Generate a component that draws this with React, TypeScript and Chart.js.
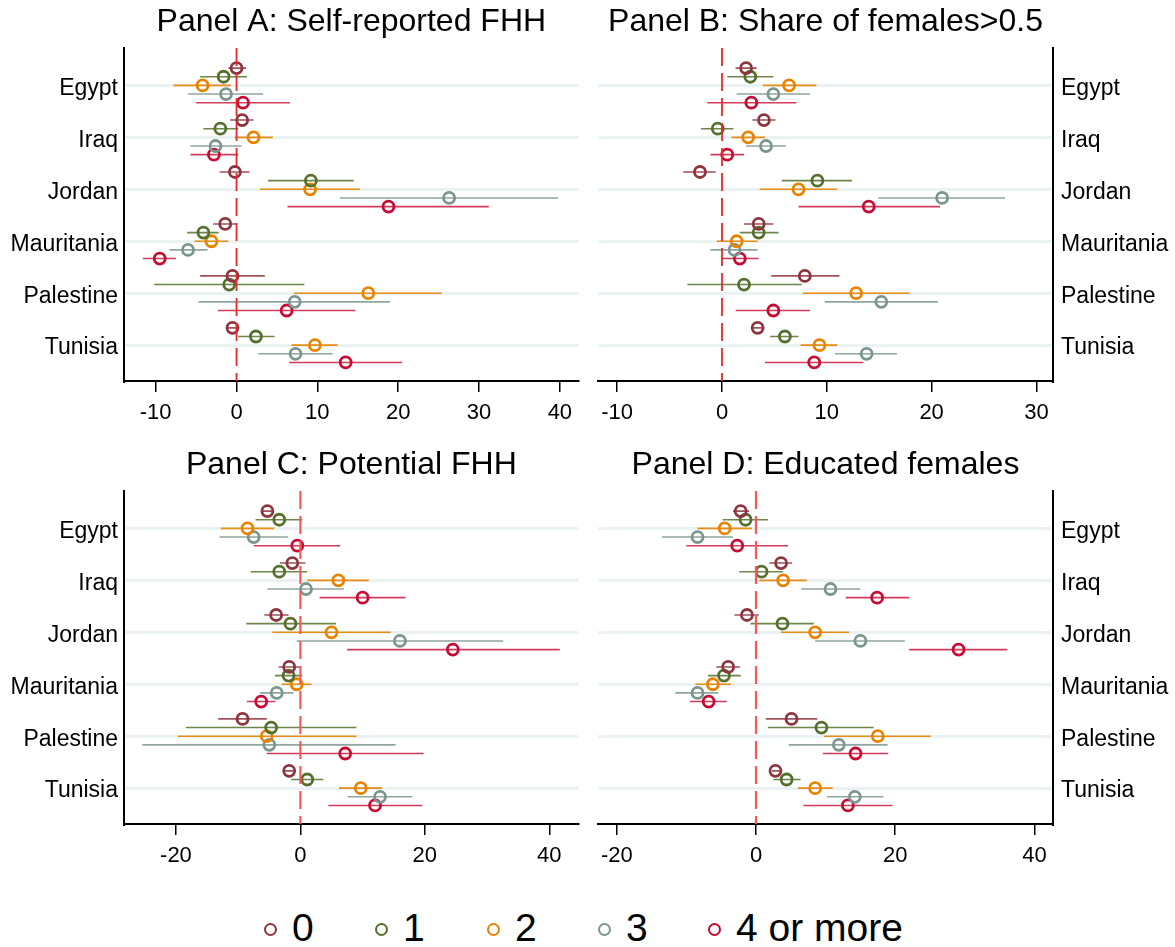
import React, { useEffect, useRef } from "react";
import { Chart, registerables } from "chart.js";

Chart.register(...registerables);

const FONT = '"Liberation Sans", Arial, Helvetica, sans-serif';

const countries = ["Egypt", "Iraq", "Jordan", "Mauritania", "Palestine", "Tunisia"];
const seriesLabels = ["0", "1", "2", "3", "4 or more"];
const seriesColors = ["#8e343e", "#55702d", "#e88300", "#7b968f", "#c80a32"];
const ciColors = ["rgba(142,52,62,0.85)", "rgba(85,112,45,0.85)", "rgba(232,131,0,0.9)", "rgba(123,150,143,0.85)", "rgba(200,10,50,0.8)"];

// Rows: countries (Egypt..Tunisia); columns: series 0,1,2,3,4 or more
const estA = [
  [0.0, -1.6, -4.2, -1.3, 0.8],
  [0.7, -2.0, 2.1, -2.6, -2.8],
  [-0.2, 9.2, 9.1, 26.3, 18.8],
  [-1.4, -4.1, -3.1, -6.0, -9.5],
  [-0.5, -0.9, 16.3, 7.2, 6.2],
  [-0.5, 2.4, 9.7, 7.3, 13.5],
];
const loA = [
  [-1.0, -4.5, -7.8, -6.0, -5.0],
  [-0.8, -4.1, -0.2, -5.7, -5.7],
  [-2.1, 3.9, 2.9, 12.8, 6.3],
  [-2.9, -6.1, -5.2, -8.3, -11.6],
  [-4.5, -10.2, 7.1, -4.7, -2.3],
  [-1.1, 0.2, 6.8, 2.7, 6.5],
];
const hiA = [
  [1.2, 1.3, -0.7, 3.3, 6.6],
  [2.1, 0.2, 4.5, 0.6, 0.2],
  [1.6, 14.5, 15.3, 39.8, 31.2],
  [0.1, -2.2, -1.0, -3.6, -7.5],
  [3.5, 8.4, 25.4, 19.0, 14.7],
  [0.2, 4.7, 12.5, 11.9, 20.5],
];

const estB = [
  [2.3, 2.7, 6.4, 4.9, 2.8],
  [4.0, -0.4, 2.5, 4.2, 0.5],
  [-2.1, 9.1, 7.3, 21.0, 14.0],
  [3.5, 3.5, 1.4, 1.2, 1.7],
  [7.9, 2.1, 12.8, 15.2, 4.9],
  [3.4, 6.0, 9.3, 13.8, 8.8],
];
const loB = [
  [1.3, 0.5, 3.9, 1.4, -1.4],
  [2.9, -2.0, 0.9, 2.3, -1.1],
  [-3.7, 5.7, 3.6, 14.9, 7.3],
  [2.1, 1.7, -0.5, -1.1, 0.0],
  [4.7, -3.3, 7.7, 9.8, 1.3],
  [2.9, 4.6, 7.5, 10.8, 4.1],
];
const hiB = [
  [3.3, 4.9, 9.0, 8.4, 7.1],
  [5.1, 1.1, 4.1, 6.1, 2.1],
  [-0.6, 12.4, 11.0, 27.0, 20.8],
  [4.9, 5.4, 3.4, 3.4, 3.5],
  [11.2, 7.6, 17.9, 20.6, 8.4],
  [4.0, 7.3, 11.0, 16.7, 13.5],
];

const estC = [
  [-5.3, -3.4, -8.5, -7.5, -0.5],
  [-1.3, -3.4, 6.1, 0.9, 10.0],
  [-3.9, -1.6, 5.0, 16.0, 24.5],
  [-1.8, -1.9, -0.6, -3.8, -6.3],
  [-9.3, -4.7, -5.4, -5.0, 7.2],
  [-1.8, 1.1, 9.7, 12.8, 12.0],
];
const loC = [
  [-6.3, -7.2, -12.8, -13.0, -7.5],
  [-3.3, -8.0, 1.1, -5.3, 3.1],
  [-5.8, -8.7, -4.5, -0.6, 7.5],
  [-3.5, -4.1, -3.0, -6.5, -8.6],
  [-13.2, -18.4, -19.7, -25.4, -5.4],
  [-2.5, -1.5, 6.2, 7.6, 4.5],
];
const hiC = [
  [-4.3, 0.3, -4.2, -2.0, 6.4],
  [0.8, 1.1, 11.0, 7.0, 16.9],
  [-1.9, 5.7, 14.5, 32.6, 41.7],
  [-0.1, 0.3, 1.8, -1.1, -4.0],
  [-5.4, 9.0, 9.0, 15.3, 19.8],
  [-1.1, 3.7, 13.1, 18.0, 19.6],
];

const estD = [
  [-2.2, -1.5, -4.5, -8.4, -2.7],
  [3.6, 0.8, 3.9, 10.7, 17.4],
  [-1.3, 3.8, 8.5, 15.0, 29.1],
  [-4.0, -4.6, -6.2, -8.4, -6.8],
  [5.1, 9.4, 17.5, 11.9, 14.3],
  [2.8, 4.4, 8.5, 14.2, 13.2],
];
const loD = [
  [-3.3, -4.8, -8.4, -13.5, -10.0],
  [1.9, -2.4, 0.5, 6.5, 12.9],
  [-3.1, -0.8, 3.6, 8.5, 22.0],
  [-5.7, -6.9, -8.7, -11.6, -9.5],
  [1.4, 1.7, 9.8, 4.7, 9.6],
  [2.3, 2.5, 6.0, 10.2, 6.8],
];
const hiD = [
  [-1.0, 1.7, -0.6, -3.3, 4.6],
  [5.2, 3.9, 7.3, 15.0, 22.0],
  [0.4, 8.3, 13.4, 21.4, 36.1],
  [-2.3, -2.2, -3.6, -5.4, -4.2],
  [8.8, 16.9, 25.1, 18.9, 19.0],
  [3.4, 6.4, 11.0, 18.3, 19.6],
];

const ticksA = [-10, 0, 10, 20, 30, 40];
const ticksB = [-10, 0, 10, 20, 30];
const ticksC = [-20, 0, 20, 40];
const ticksD = [-20, 0, 20, 40];

const Y_MIN = 0.28;
const Y_MAX = 6.69;

type PanelProps = {
  title: string;
  est: number[][];
  lo: number[][];
  hi: number[][];
  xMin: number;
  xMax: number;
  xTicks: number[];
  side: "left" | "right";
  left: number;
  top: number;
  width: number;
  height: number;
  padLeft: number;
  padRight: number;
  zeroColor: string;
  zeroWidth: number;
};

function Panel(p: PanelProps) {
  const ref = useRef<HTMLCanvasElement>(null);
  useEffect(() => {
    if (!ref.current) return;
    const datasets: any[] = [];
    datasets.push({
      type: "line",
      data: [
        { x: 0, y: Y_MIN },
        { x: 0, y: Y_MAX },
      ],
      borderColor: p.zeroColor,
      borderWidth: p.zeroWidth,
      borderDash: [18, 7],
      pointRadius: 0,
      order: 0,
    });
    for (let k = 0; k < 5; k++) {
      const ci: any[] = [];
      const pts: any[] = [];
      countries.forEach((_, i) => {
        const y = i + 1 + (k - 2) / 6;
        ci.push({ x: p.lo[i][k], y });
        ci.push({ x: p.hi[i][k], y });
        ci.push({ x: null, y: null });
        pts.push({ x: p.est[i][k], y });
      });
      datasets.push({
        type: "line",
        data: ci,
        borderColor: ciColors[k],
        borderWidth: 1.6,
        pointRadius: 0,
        spanGaps: false,
        tension: 0,
        order: 1,
      });
      datasets.push({
        type: "scatter",
        label: seriesLabels[k],
        data: pts,
        pointStyle: "circle",
        pointRadius: 5.5,
        borderWidth: 2.8,
        borderColor: seriesColors[k],
        backgroundColor: "rgba(0,0,0,0)",
        order: 2,
      });
    }
    const chart = new Chart(ref.current, {
      type: "scatter",
      data: { datasets },
      options: {
        animation: false,
        responsive: false,
        devicePixelRatio: 1,
        layout: { padding: { left: p.padLeft, right: p.padRight, top: 0, bottom: 0 } },
        plugins: {
          legend: { display: false },
          tooltip: { enabled: false },
          title: {
            display: true,
            text: p.title,
            color: "#000",
            font: { family: FONT, size: 32, weight: "normal", lineHeight: 1.2 },
            padding: { top: 3, bottom: 6.6 },
            fullSize: false,
          },
        },
        scales: {
          x: {
            type: "linear",
            position: "bottom",
            min: p.xMin,
            max: p.xMax,
            afterBuildTicks: (s: any) => {
              s.ticks = p.xTicks.map((v) => ({ value: v }));
            },
            afterFit: (s: any) => {
              s.height = 59;
            },
            ticks: {
              autoSkip: false,
              maxRotation: 0,
              color: "#000",
              padding: 8,
              font: { family: FONT, size: 22 },
              callback: (v: any) => String(v),
            },
            grid: {
              drawOnChartArea: false,
              drawTicks: true,
              tickLength: 11,
              color: "#000",
              lineWidth: 1.5,
            },
            border: { display: true, color: "#000", width: 2 },
          },
          y: {
            type: "linear",
            position: p.side,
            reverse: true,
            min: Y_MIN,
            max: Y_MAX,
            afterBuildTicks: (s: any) => {
              s.ticks = countries.map((_, i) => ({ value: i + 1 }));
            },
            afterFit: (s: any) => {
              s.width = p.side === "left" ? 124 : 122;
            },
            ticks: {
              autoSkip: false,
              color: "#000",
              padding: p.side === "left" ? 6 : 8,
              labelOffset: 3,
              font: { family: FONT, size: 23 },
              callback: (v: any) => countries[Math.round(Number(v)) - 1] ?? "",
            },
            grid: {
              drawOnChartArea: true,
              drawTicks: false,
              color: "#ebf2f3",
              lineWidth: 3,
            },
            border: { display: true, color: "#000", width: 2 },
          },
        },
      } as any,
    });
    return () => chart.destroy();
  }, []);
  return (
    <canvas
      ref={ref}
      width={p.width}
      height={p.height}
      style={{ position: "absolute", left: p.left, top: p.top, width: p.width, height: p.height }}
    />
  );
}

const legendX = [270, 381, 493, 604, 714];

export default function App() {
  return (
    <div style={{ position: "absolute", left: 0, top: 0, width: 1175, height: 947, background: "#fff", fontFamily: FONT }}>
      <Panel
        title="Panel A: Self-reported FHH"
        est={estA} lo={loA} hi={hiA}
        xMin={-13.92} xMax={42.33} xTicks={ticksA}
        side="left" left={0} top={0} width={587} height={440}
        padLeft={0} padRight={8}
        zeroColor="rgb(236,40,40)" zeroWidth={1.8}
      />
      <Panel
        title="Panel B: Share of females>0.5"
        est={estB} lo={loB} hi={hiB}
        xMin={-11.83} xMax={31.58} xTicks={ticksB}
        side="right" left={587} top={0} width={588} height={440}
        padLeft={11} padRight={0}
        zeroColor="rgb(236,40,40)" zeroWidth={1.8}
      />
      <Panel
        title="Panel C: Potential FHH"
        est={estC} lo={loC} hi={hiC}
        xMin={-28.35} xMax={44.73} xTicks={ticksC}
        side="left" left={0} top={443} width={587} height={440}
        padLeft={0} padRight={8}
        zeroColor="rgb(244,90,90)" zeroWidth={2.2}
      />
      <Panel
        title="Panel D: Educated females"
        est={estD} lo={loD} hi={hiD}
        xMin={-22.7} xMax={42.67} xTicks={ticksD}
        side="right" left={587} top={443} width={588} height={440}
        padLeft={11} padRight={0}
        zeroColor="rgb(244,90,90)" zeroWidth={2.2}
      />
      {seriesLabels.map((lab, k) => (
        <React.Fragment key={lab}>
          <div
            style={{
              position: "absolute",
              left: legendX[k] - 6.5,
              top: 929 - 6.5,
              width: 13,
              height: 13,
              boxSizing: "border-box",
              border: `2.6px solid ${seriesColors[k]}`,
              borderRadius: "50%",
            }}
          />
          <div
            style={{
              position: "absolute",
              left: legendX[k] + 22,
              top: 905,
              height: 46,
              lineHeight: "46px",
              fontSize: 39,
              color: "#000",
              whiteSpace: "nowrap",
            }}
          >
            {lab}
          </div>
        </React.Fragment>
      ))}
    </div>
  );
}
